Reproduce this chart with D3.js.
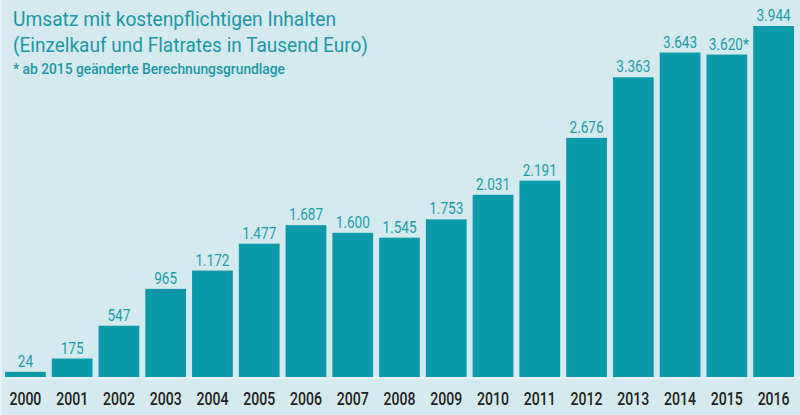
<!DOCTYPE html>
<html>
<head>
<meta charset="utf-8">
<script src="https://cdn.jsdelivr.net/npm/d3@7"></script>
<style>
  body { margin: 0; background: #d5eaee; }
  svg { display: block; }
</style>
</head>
<body>
<svg id="chart" width="800" height="415"></svg>
<script>
// data
const years = ["2000","2001","2002","2003","2004","2005","2006","2007","2008",
               "2009","2010","2011","2012","2013","2014","2015","2016"];
const values = [24, 175, 547, 965, 1172, 1477, 1687, 1600, 1545,
                1753, 2031, 2191, 2676, 3363, 3643, 3620, 3944];
const valueLabels = ["24","175","547","965","1.172","1.477","1.687","1.600","1.545",
                     "1.753","2.031","2.191","2.676","3.363","3.643","3.620*","3.944"];
const titleLines = ["Umsatz mit kostenpflichtigen Inhalten",
                    "(Einzelkauf und Flatrates in Tausend Euro)"];
const footnote = "* ab 2015 geänderte Berechnungsgrundlage";

const teal = "#0b9aa9";
const textTeal = "#1a98a7";
const font = "Roboto, 'DejaVu Sans Condensed', sans-serif";

const svg = d3.select("#chart");
const W = 800, H = 415;
const baseY = 377;

svg.append("rect").attr("width", W).attr("height", H).attr("fill", "#d5eaee");
svg.append("rect").attr("x", 0).attr("y", 0).attr("width", 2).attr("height", H).attr("fill", "#e2f1f4");

const x = d3.scaleBand().domain(years).range([5, 794]).paddingInner(0.128).paddingOuter(0);
const y = d3.scaleLinear().domain([0, 3944]).range([374, 26]);

// light strip under the bars
svg.append("rect").attr("x", 0).attr("y", baseY).attr("width", W).attr("height", 2).attr("fill", "#e6f3f6");

const g = svg.append("g");
g.selectAll("rect.bar")
  .data(values)
  .enter().append("rect")
  .attr("class", "bar")
  .attr("x", (d, i) => x(years[i]))
  .attr("y", d => y(d))
  .attr("width", x.bandwidth())
  .attr("height", d => baseY - y(d))
  .attr("fill", teal);

// the original uses a condensed face, so squeeze the text horizontally
g.selectAll("text.val")
  .data(values)
  .enter().append("text")
  .attr("class", "val")
  .attr("transform", (d, i) => {
    const cx = x(years[i]) + x.bandwidth() / 2 + (valueLabels[i].endsWith("*") ? 2 : 0);
    return `translate(${cx},${y(d) - 5}) scale(0.8,1)`;
  })
  .attr("text-anchor", "middle")
  .style("font-family", font)
  .style("font-size", "17px")
  .attr("fill", "#1a9cab")
  .text((d, i) => valueLabels[i]);

// year axis
const axis = svg.append("g")
  .attr("transform", `translate(0,${baseY})`)
  .call(d3.axisBottom(x).tickSize(0).tickPadding(0));
axis.select(".domain").remove();
axis.selectAll("text")
  .attr("y", 0)
  .attr("dy", null)
  .attr("transform", "translate(0,28) scale(0.76,1)")
  .style("font-family", font)
  .style("font-size", "18.5px")
  .style("font-weight", "500")
  .attr("fill", "#222");

// title block
svg.append("g").selectAll("text")
  .data(titleLines)
  .enter().append("text")
  .attr("x", 13)
  .attr("y", (d, i) => 26 + i * 26)
  .attr("textLength", (d, i) => i === 0 ? 323 : 355)
  .attr("lengthAdjust", "spacingAndGlyphs")
  .style("font-family", font)
  .style("font-size", "21px")
  .attr("fill", textTeal)
  .text(d => d);

svg.append("text")
  .attr("x", 13)
  .attr("y", 74)
  .attr("textLength", 272)
  .attr("lengthAdjust", "spacingAndGlyphs")
  .style("font-family", font)
  .style("font-size", "14px")
  .style("font-weight", "500")
  .attr("fill", textTeal)
  .text(footnote);
</script>
</body>
</html>
